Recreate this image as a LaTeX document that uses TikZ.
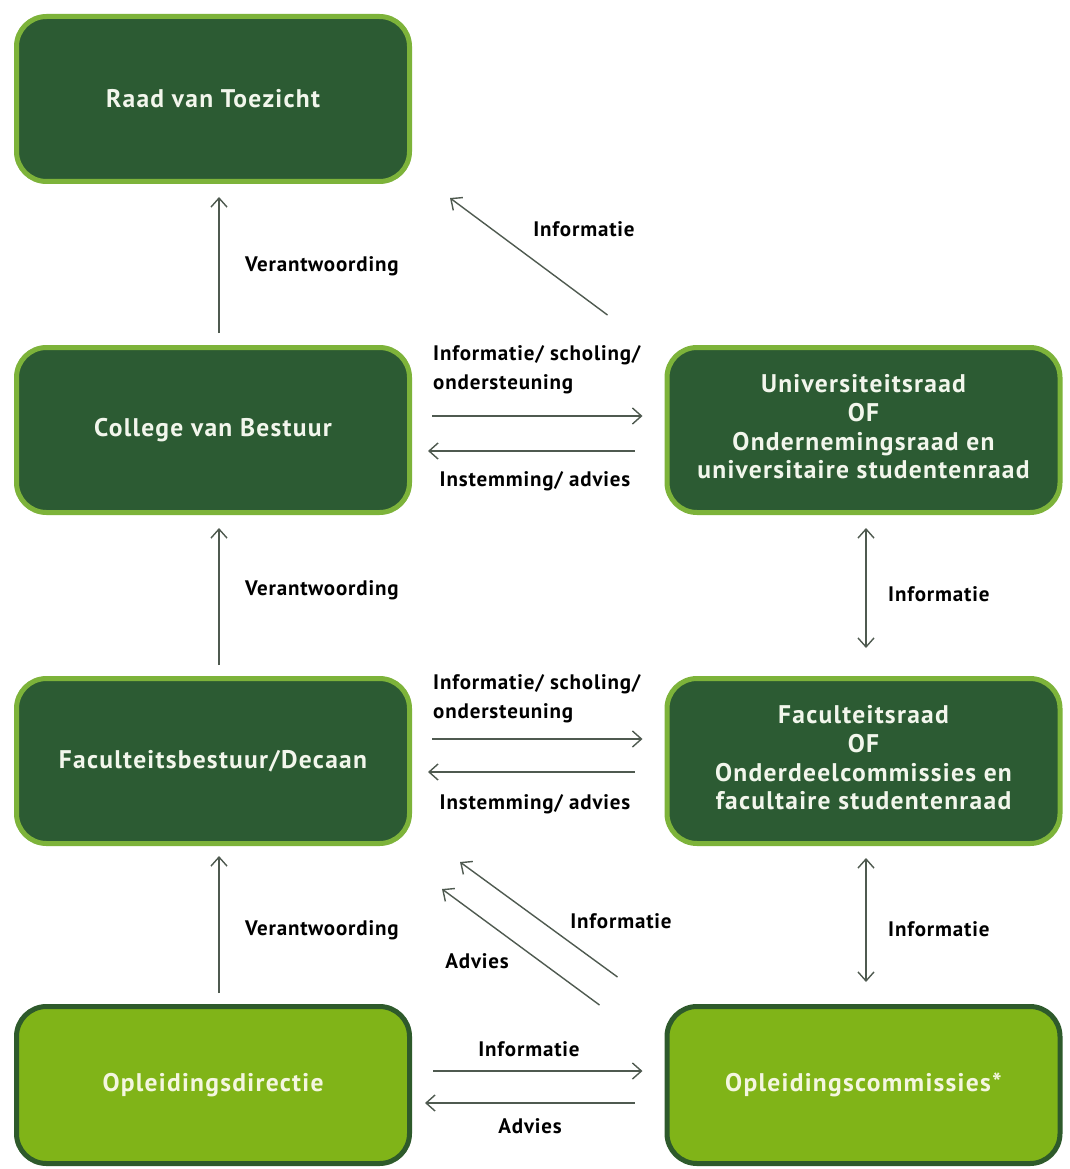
\documentclass[tikz,border=0pt]{standalone}
\usepackage{fontspec}
\setmainfont{PT Sans}
\newfontfamily\boxfont{PT Sans}[LetterSpace=5]
\newfontfamily\lblfont{PT Sans}[LetterSpace=4]
\usetikzlibrary{arrows.meta,calc}
\definecolor{dkfill}{HTML}{2C5B33}
\definecolor{ltborder}{HTML}{7DB33A}
\definecolor{ltfill}{HTML}{80B418}
\definecolor{dkborder}{HTML}{2E5A2B}
\definecolor{boxtxt}{HTML}{F2F6EC}
\definecolor{boxtxtl}{HTML}{F4F6E0}
\definecolor{arrowc}{HTML}{4F5A50}
\newcommand{\boxlines}[2]{\raisebox{#1}{\begin{tabular}{@{}c@{}}#2\end{tabular}}}
\begin{document}
\begin{tikzpicture}[x=1pt,y=-1pt,
 box/.style={rounded corners=30pt, line width=5pt, minimum width=393pt, minimum height=165pt, align=center, text=boxtxt, font=\boxfont\fontsize{25.5}{28.7}\selectfont\bfseries},
 dbox/.style={box, draw=ltborder, fill=dkfill},
 lbox/.style={box, draw=dkborder, fill=ltfill, text=boxtxtl},
 tip/.tip={Straight Barb[length=9pt,width=16pt]},
 arr/.style={draw=arrowc, line width=1.4pt, -tip},
 darr/.style={draw=arrowc, line width=1.4pt, tip-tip},
 lbl/.style={font=\lblfont\fontsize{21}{29}\selectfont\bfseries, text=black, inner sep=0pt}]
\fill[white] (0,0) rectangle (1070,1169);
\useasboundingbox (0,0) rectangle (1070,1169);

\node[dbox] (rvt) at (213,99) {Raad van Toezicht};
\node[dbox] (cvb) at (213,430) {College van Bestuur};
\node[dbox] (fb) at (213,761) {Faculteitsbestuur/Decaan};
\node[lbox, minimum height=157pt] (od) at (213,1085) {Opleidingsdirectie};
\node[dbox] (ur) at (863.5,430) {\boxlines{12pt}{Universiteitsraad\\OF\\Ondernemingsraad en\\universitaire studentenraad}};
\node[dbox] (fr) at (863.5,761) {\boxlines{4pt}{Faculteitsraad\\OF\\Onderdeelcommissies en\\facultaire studentenraad}};
\node[lbox, minimum height=157pt] (oc) at (863.5,1085) {\raisebox{-7pt}{Opleidingscommissies*}};

% vertical left
\draw[arr, shorten <=12pt, shorten >=13pt] ([xshift=6pt]cvb.north) -- ([xshift=6pt]rvt.south);
\draw[arr, shorten <=11pt, shorten >=13pt] ([xshift=6pt]fb.north) -- ([xshift=6pt]cvb.south);
\draw[arr, shorten <=11pt, shorten >=10pt] ([xshift=6pt]od.north) -- ([xshift=6pt]fb.south);

% horizontal
\draw[arr, shorten <=20pt, shorten >=22pt] ([yshift=14pt]cvb.east) -- ([yshift=14pt]ur.west);
\draw[arr, shorten <=30pt, shorten >=16pt] ([yshift=-21pt]ur.west) -- ([yshift=-21pt]cvb.east);
\draw[arr, shorten <=20pt, shorten >=22pt] ([yshift=22pt]fb.east) -- ([yshift=22pt]fr.west);
\draw[arr, shorten <=30pt, shorten >=16pt] ([yshift=-11pt]fr.west) -- ([yshift=-11pt]fb.east);
\draw[arr, shorten <=21pt, shorten >=22pt] ([yshift=14pt]od.east) -- ([yshift=14pt]oc.west);
\draw[arr, shorten <=30pt, shorten >=13pt] ([yshift=-18pt]oc.west) -- ([yshift=-18pt]od.east);

% vertical right
\draw[darr, shorten <=13pt, shorten >=28pt] ([xshift=2.5pt]ur.south) -- ([xshift=2.5pt]fr.north);
\draw[darr, shorten <=12pt, shorten >=22pt] ([xshift=2.5pt]fr.south) -- ([xshift=2.5pt]oc.north);

% diagonals
\draw[arr] ($(ur.north west)+(-57,-30)$) -- ($(rvt.south east)+(38,14)$);
\draw[arr] ($(oc.north west)+(-47,-27)$) -- ($(fb.south east)+(48,16)$);
\draw[arr] ($(oc.north west)+(-65,1)$) -- ($(fb.south east)+(30,43)$);

% labels
\node[lbl, anchor=west] (v1) at (245,266) {Verantwoording};
\node[lbl, anchor=west] (v2) at (245,590) {Verantwoording};
\node[lbl, anchor=west] (v3) at (245,930) {Verantwoording};
\node[lbl] (i0) at (584,229) {Informatie};
\node[lbl, anchor=west, align=left] (isch1) at (433,370) {Informatie/ scholing/\\ondersteuning};
\node[lbl] (ia1) at (535,481) {Instemming/ advies};
\node[lbl, anchor=west, align=left] (isch2) at (433,699) {Informatie/ scholing/\\ondersteuning};
\node[lbl] (ia2) at (535,804) {Instemming/ advies};
\node[lbl, anchor=west] (ir1) at (888,594) {Informatie};
\node[lbl, anchor=west] (ir2) at (888,929) {Informatie};
\node[lbl] (id) at (621,921) {Informatie};
\node[lbl] (ad) at (477,961) {Advies};
\node[lbl] (ib) at (529,1049) {Informatie};
\node[lbl] (ab) at (530,1126) {Advies};
\end{tikzpicture}
\end{document}
